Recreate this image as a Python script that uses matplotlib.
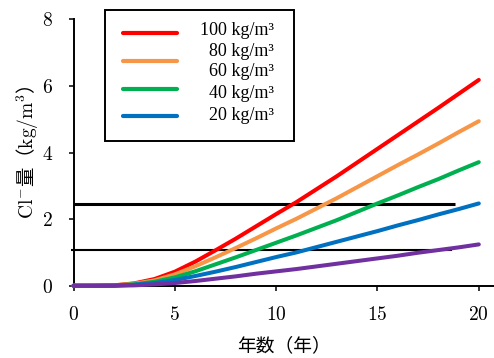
import matplotlib
matplotlib.use('Agg')
import matplotlib.pyplot as plt
from matplotlib.patches import Rectangle
from matplotlib.lines import Line2D

plt.rcParams['mathtext.fontset'] = 'cm'
plt.rcParams['axes.formatter.use_mathtext'] = True

# Cl- content over time for each surface chloride level
years = list(range(0, 21))
cl_100 = [0, 0, 0.01, 0.07, 0.2, 0.42, 0.72, 1.06, 1.41, 1.78, 2.15,
          2.51, 2.9, 3.29, 3.7, 4.11, 4.52, 4.93, 5.34, 5.76, 6.18]
cl_80 = [0, 0, 0.01, 0.06, 0.16, 0.34, 0.58, 0.85, 1.13, 1.42, 1.72,
         2.01, 2.32, 2.63, 2.96, 3.29, 3.62, 3.94, 4.27, 4.61, 4.94]
cl_60 = [0, 0, 0.01, 0.04, 0.12, 0.25, 0.43, 0.64, 0.85, 1.07, 1.29,
         1.51, 1.74, 1.97, 2.22, 2.47, 2.71, 2.96, 3.2, 3.46, 3.71]
cl_40 = [0, 0, 0, 0.03, 0.08, 0.17, 0.29, 0.42, 0.56, 0.71, 0.86,
         1.0, 1.16, 1.32, 1.48, 1.64, 1.81, 1.97, 2.14, 2.3, 2.47]
cl_20 = [0, 0, 0, 0.01, 0.04, 0.08, 0.14, 0.21, 0.28, 0.36, 0.43,
         0.5, 0.58, 0.66, 0.74, 0.82, 0.9, 0.99, 1.07, 1.15, 1.24]

# threshold lines: (level, start year, end year)
limits = [(2.45, 0.0, 18.85), (1.07, -0.1, 18.7)]

legend_labels = ['100 kg/m³', '80 kg/m³', '60 kg/m³', '40 kg/m³', '20 kg/m³']

series = [
    (cl_100, '#ff0000'),
    (cl_80, '#f79646'),
    (cl_60, '#00b050'),
    (cl_40, '#0070c0'),
    (cl_20, '#7030a0'),
]

fig = plt.figure(figsize=(4.94, 3.58), dpi=100)
ax = fig.add_axes([73.5 / 494, 1 - 285.7 / 358, 420.5 / 494, 266.4 / 358])

for vals, col in series:
    ax.plot(years, vals, color=col, lw=2.9, solid_capstyle='round', clip_on=False, zorder=3)

ax.hlines(limits[0][0], limits[0][1], limits[0][2], color='black', lw=2.2, zorder=2, clip_on=False)
ax.hlines(limits[1][0], limits[1][1], limits[1][2], color='black', lw=1.5, zorder=2, clip_on=False)

ax.set_xlim(0, 20.75)
ax.set_ylim(0, 8)
ax.set_xticks([0, 5, 10, 15, 20])
ax.set_yticks([0, 2, 4, 6, 8])
for s in ['top', 'right']:
    ax.spines[s].set_visible(False)
for s in ['left', 'bottom']:
    ax.spines[s].set_linewidth(1.4)
ax.tick_params(direction='out', length=3.6, width=1.1, pad=11,
               labelsize=14, labelfontfamily='cmr10')

ax.set_xlabel('年数（年）', family='Noto Sans CJK JP', fontsize=13.5, labelpad=8)
ax.set_ylabel(r'$\mathrm{Cl}^{-}$量（$\mathrm{kg/m}^{3}$）', family='Noto Sans CJK JP',
              fontsize=14, labelpad=1)

# hand-placed legend box
fig.add_artist(Rectangle((105 / 494, 1 - 140.7 / 358), 189 / 494, 130.7 / 358,
                         transform=fig.transFigure, facecolor='white',
                         edgecolor='black', lw=1.4, zorder=5))
line_y = [33, 61, 88.5, 116]
for py, (vals, col) in zip(line_y, series[:4]):
    fig.add_artist(Line2D([122.7 / 494, 177.3 / 494], [1 - py / 358] * 2,
                          color=col, lw=3, solid_capstyle='round', zorder=6))
text_y = [30.7, 51, 71.7, 93.3, 116]
for py, lab in zip(text_y, legend_labels):
    fig.text(274 / 494, 1 - py / 358, lab, ha='right', va='center',
             family='Liberation Serif', fontsize=13, zorder=7)

fig.savefig('out.png', dpi=100)
